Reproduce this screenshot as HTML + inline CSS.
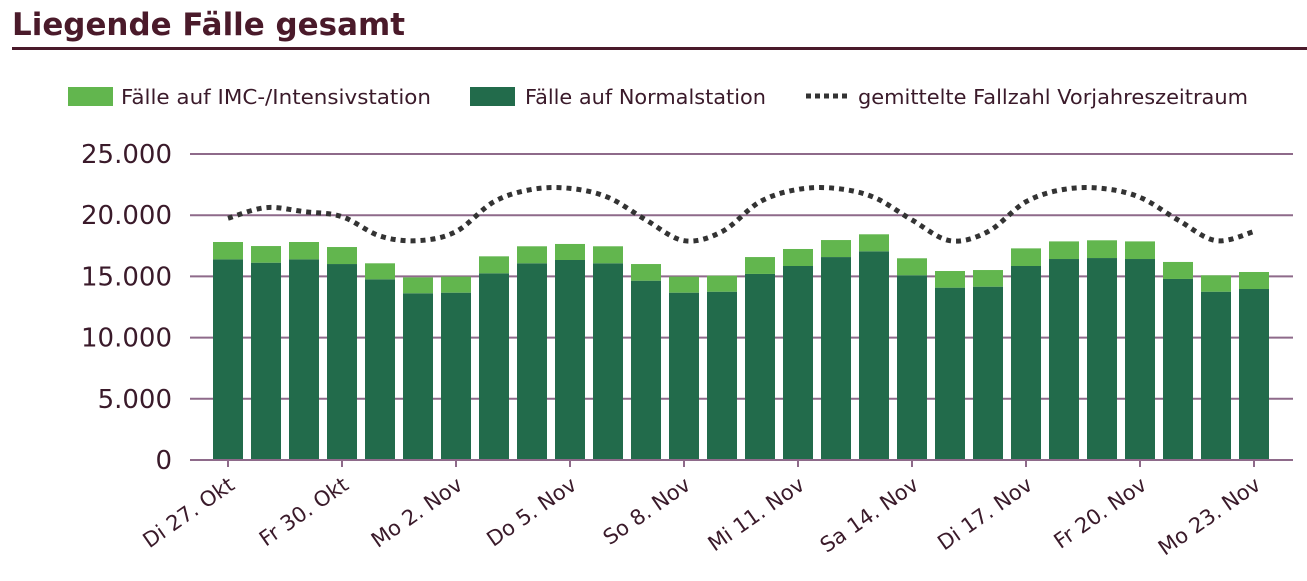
<!DOCTYPE html>
<html><head><meta charset="utf-8"><style>
body{margin:0;background:#fff;font-family:"Liberation Sans",sans-serif;}
svg text{font-family:"Verdana","DejaVu Sans","Liberation Sans",sans-serif;}
</style></head><body>
<svg id="chart" width="1307" height="576" xmlns="http://www.w3.org/2000/svg">
<text x="12" y="35" font-size="31" font-weight="bold" fill="#4a1a2a" textLength="393" lengthAdjust="spacingAndGlyphs">Liegende Fälle gesamt</text>
<rect x="12" y="47" width="1295" height="3" fill="#4a1a2a"/>
<g>
<rect x="68" y="87" width="45" height="19" fill="#62b64e"/>
<text x="121" y="104" font-size="20" fill="#3a1a2a" textLength="310" lengthAdjust="spacingAndGlyphs">Fälle auf IMC-/Intensivstation</text>
<rect x="470" y="87" width="45" height="19" fill="#226b4b"/>
<text x="525" y="104" font-size="20" fill="#3a1a2a" textLength="241" lengthAdjust="spacingAndGlyphs">Fälle auf Normalstation</text>
<line x1="806" y1="96" x2="850" y2="96" stroke="#333" stroke-width="5" stroke-dasharray="5 4"/>
<text x="858" y="104" font-size="20" fill="#3a1a2a" textLength="390" lengthAdjust="spacingAndGlyphs">gemittelte Fallzahl Vorjahreszeitraum</text>
</g>
<g id="grid"></g><g id="bars"></g><g id="axis"></g><g id="line"></g>
</svg>
<script>
const categories=["Di 27. Okt","Mi 28. Okt","Do 29. Okt","Fr 30. Okt","Sa 31. Okt","So 1. Nov","Mo 2. Nov","Di 3. Nov","Mi 4. Nov","Do 5. Nov","Fr 6. Nov","Sa 7. Nov","So 8. Nov","Mo 9. Nov","Di 10. Nov","Mi 11. Nov","Do 12. Nov","Fr 13. Nov","Sa 14. Nov","So 15. Nov","Mo 16. Nov","Di 17. Nov","Mi 18. Nov","Do 19. Nov","Fr 20. Nov","Sa 21. Nov","So 22. Nov","Mo 23. Nov"];
const normalValues=[16390,16120,16390,16010,14760,13620,13670,15250,16070,16340,16070,14650,13670,13750,15200,15850,16580,17050,15090,14080,14160,15850,16420,16500,16420,14790,13750,13970];
const totalValues=[17810,17480,17810,17400,16070,14920,14980,16640,17460,17650,17460,16010,14980,15060,16580,17240,17970,18440,16480,15440,15520,17290,17860,17950,17860,16180,15090,15360];
const prevYearValues=[19750,20620,20290,19880,18300,17920,18660,21100,22110,22190,21460,19610,17920,18660,21100,22110,22190,21460,19610,17920,18660,21100,22110,22190,21460,19610,17920,18660];
const yTicks=[0,5000,10000,15000,20000,25000];
const yTickLabels=["0","5.000","10.000","15.000","20.000","25.000"];
const xTickIdx=[0,3,6,9,12,15,18,21,24,27];
const NS="http://www.w3.org/2000/svg";
const y=v=>460-v*306/25000;
const x=i=>228+i*38;
function mk(t,a,p){const e=document.createElementNS(NS,t);for(const k in a)e.setAttribute(k,a[k]);p.appendChild(e);return e;}
const grid=document.getElementById('grid'),bars=document.getElementById('bars'),axis=document.getElementById('axis'),line=document.getElementById('line');
yTicks.forEach((v,k)=>{
 if(v>0){const g=mk('line',{x1:190,x2:1293,y1:y(v),y2:y(v),stroke:'#8e6a8a','stroke-width':2},grid);
 
 }
 const t=mk('text',{x:172,y:y(v)+9,'text-anchor':'end','font-size':26,fill:'#3a1a2a'},axis);t.textContent=yTickLabels[k];
 
 
});
categories.forEach((c,i)=>{
 const n=mk('rect',{x:x(i)-15,y:y(normalValues[i]),width:30,height:y(0)-y(normalValues[i]),fill:'#226b4b'},bars);
 
 
 const m=mk('rect',{x:x(i)-15,y:y(totalValues[i]),width:30,height:y(normalValues[i])-y(totalValues[i]),fill:'#62b64e'},bars);
 
 
});
const ax=mk('line',{x1:190,x2:1293,y1:460,y2:460,stroke:'#8e6a8a','stroke-width':2},axis);


xTickIdx.forEach(i=>{
 const tk=mk('line',{x1:x(i),x2:x(i),y1:460,y2:467,stroke:'#8e6a8a','stroke-width':2},axis);
 
 
 const ax0=x(i)+8, ay0=488;
 const t=mk('text',{x:ax0,y:ay0,'text-anchor':'end','font-size':21,fill:'#3a1a2a',transform:`rotate(-35 ${ax0} ${ay0})`},axis);
 t.textContent=categories[i];
 
 
});
const P=prevYearValues.map((v,i)=>[x(i),y(v)]);
let d=`M${P[0][0]},${P[0][1]}`;
for(let i=0;i<P.length-1;i++){const p0=P[Math.max(0,i-1)],p1=P[i],p2=P[i+1],p3=P[Math.min(P.length-1,i+2)];
 d+=` C${p1[0]+(p2[0]-p0[0])/6},${p1[1]+(p2[1]-p0[1])/6} ${p2[0]-(p3[0]-p1[0])/6},${p2[1]-(p3[1]-p1[1])/6} ${p2[0]},${p2[1]}`;}
const pl=mk('path',{d:d,fill:'none',stroke:'#333','stroke-width':5,'stroke-dasharray':'5 5'},line);


</script>
</body></html>
